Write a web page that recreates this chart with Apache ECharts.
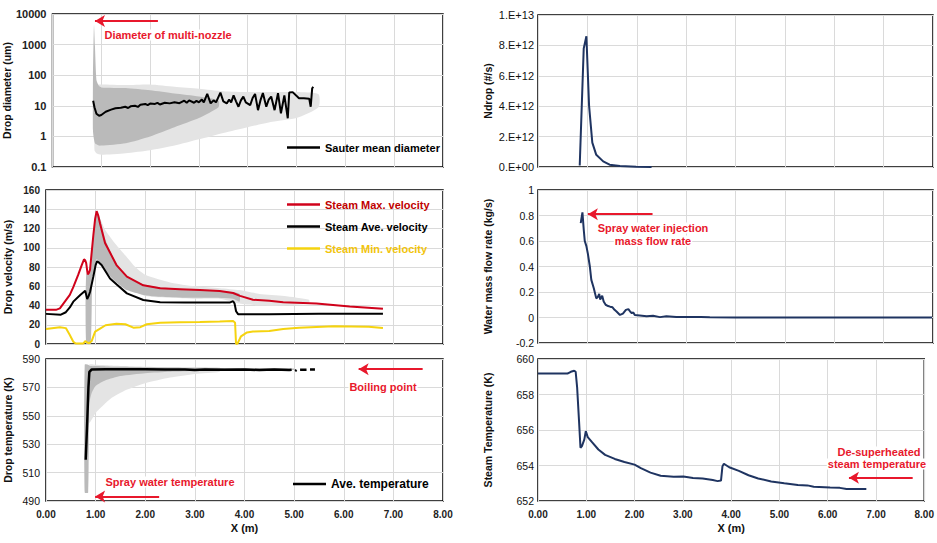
<!DOCTYPE html>
<html><head><meta charset="utf-8">
<script src="https://cdn.jsdelivr.net/npm/echarts@6/dist/echarts.min.js"></script>
<style>html,body{margin:0;padding:0;background:#fff}#c{width:937px;height:543px}</style>
</head><body><div id="c"></div>
<script>
// ---------------- DATA ----------------
const xTicks = [0, 1, 2, 3, 4, 5, 6, 7, 8];

// Panel 1: drop diameter (log)
const sauterDiameter = [[0.833,14.7],[0.86,9],[0.9,5.5],[0.954,4.7],[1.0,5.0],[1.09,6.4],[1.2,7.5],[1.29,8.3],[1.4,8.6],[1.49,9.3],[1.55,8.5],[1.6,9.6],[1.69,10],[1.75,9.2],[1.8,10.8],[1.9,11.5],[1.95,10.5],[2.0,11.8],[2.1,11.5],[2.15,12.5],[2.2,11],[2.3,12.6],[2.4,12],[2.5,13],[2.6,12.2],[2.7,14.7],[2.75,12.5],[2.8,15],[2.9,12.6],[2.95,14.5],[3.0,13],[3.06,16],[3.1,13],[3.17,24.5],[3.24,12],[3.3,15],[3.35,13],[3.44,27],[3.5,14],[3.57,12],[3.62,16],[3.66,13],[3.71,22],[3.76,14],[3.81,9.3],[3.86,15],[3.91,20],[3.96,13],[4.05,10.5],[4.1,18],[4.15,24.5],[4.21,7.2],[4.26,15],[4.31,26],[4.38,9.3],[4.43,16],[4.48,20],[4.55,7.2],[4.62,26],[4.68,5.7],[4.75,22],[4.82,3.9],[4.85,27],[4.92,28],[5.05,17.6],[5.15,17.5],[5.26,17],[5.29,9.3],[5.32,37],[5.34,42]];
const diamCoreX  = [0.83, 0.85, 0.87, 0.9, 0.95, 1.0, 1.5, 2.0, 2.5, 3.0, 3.4];
const diamCoreHi = [100, 4400, 900, 70, 45, 40, 38, 32, 25, 20, 15];
const diamCoreLo = [1.5, 0.8, 0.6, 0.55, 0.5, 0.5, 0.6, 1.0, 2.0, 4, 9];
const diamHaloX  = [0.86, 0.9, 1.0, 1.5, 2.0, 2.5, 3.0, 3.5, 4.0, 4.5, 5.0, 5.45];
const diamHaloHi = [55, 50, 50, 48, 50, 42, 36, 30, 28, 28, 28, 24];
const diamHaloLo = [0.35, 0.28, 0.25, 0.28, 0.35, 0.5, 0.8, 1.3, 2, 3, 4, 9];

// Panel 2: velocities
const steamMaxVel = [[0,35.5],[0.2,35.5],[0.28,37],[0.35,42],[0.48,51],[0.55,59],[0.65,72],[0.72,82],[0.766,88],[0.79,87],[0.81,84],[0.84,72.4],[0.865,74],[0.887,77],[0.92,95],[0.954,113],[0.99,130],[1.02,138],[1.05,134],[1.09,125],[1.19,105],[1.3,94],[1.42,82],[1.63,70],[1.96,61],[2.3,58],[2.7,57],[3.1,56],[3.5,55],[3.77,53],[3.91,50],[4.17,46],[4.5,45],[4.78,43.5],[5.45,42],[6.12,39],[6.79,36.5]];
const steamAveVel = [[0,31.3],[0.3,30.5],[0.4,33],[0.48,38],[0.55,44],[0.69,51],[0.79,55.4],[0.83,46.7],[0.86,50],[0.887,54],[0.954,70],[1.0,82],[1.03,86],[1.07,84.5],[1.12,82],[1.29,68],[1.42,62],[1.63,52.6],[1.96,45.7],[2.3,43.3],[2.8,43],[3.3,43],[3.7,43],[3.77,44.5],[3.8,42],[3.83,34],[3.87,31],[4.5,31],[5.5,31.3],[6.79,31.5]];
const steamMinVel = [[0,15.6],[0.28,17.4],[0.4,16.5],[0.48,9.3],[0.55,2.4],[0.6,0.5],[0.75,0.5],[0.79,3],[0.83,1.5],[0.87,0.8],[0.92,3],[0.99,12.8],[1.09,16],[1.2,19.5],[1.42,21],[1.6,20.5],[1.76,17],[1.9,17.5],[2.03,20.5],[2.3,22],[2.7,22.5],[3.1,22.8],[3.5,23.3],[3.77,24],[3.81,22],[3.83,0],[3.86,0.5],[3.93,8],[4.05,12],[4.17,13],[4.5,13.5],[4.78,15.6],[5.1,17],[5.8,18.4],[6.5,18],[6.79,16.7]];
const velCoreX  = [0.81, 0.9, 0.93, 0.96, 1.02, 1.1, 1.2, 1.3, 1.42, 1.63, 1.96, 2.3, 2.8, 3.3, 3.77, 3.9];
const velCoreHi = [72, 76, 100, 114, 138, 128, 108, 96, 84, 71, 62, 59, 57, 56, 54, 52];
const velCoreLo = [0, 0, 62, 72, 88, 84, 76, 70, 64, 56, 51, 49, 48, 48, 47, 44];
const velHaloX  = [1.05, 1.2, 1.4, 1.6, 1.8, 2.0, 2.5, 3.0, 3.5, 3.9, 4.3, 4.8, 5.3];
const velHaloHi = [134, 118, 104, 92, 80, 72, 64, 60, 58, 56, 52, 50, 46];
const velHaloLo = [86, 76, 66, 58, 54, 50, 48, 47, 47, 42, 40, 40, 42];

// Panel 3: drop temperature
const aveDropTemp = [[0.80,519],[0.83,545],[0.855,570],[0.874,581],[0.92,582.6],[1.2,582.7],[1.6,582.8],[2.0,582.7],[2.4,582.6],[2.8,582.6],[3.0,582.3],[3.2,582.6],[3.6,582.5],[4.0,582.6],[4.3,582.2],[4.6,582.6],[4.9,582.3],[4.95,582.5],[4.97,null],[5.02,581.5],[5.05,582.2],[5.07,null],[5.12,582.4],[5.25,582.5],[5.28,null],[5.32,582.6],[5.42,582.6]];
const tempCoreX  = [0.78, 0.85, 0.87, 0.92, 1.0, 1.2, 1.5, 2.0, 2.5, 3.0, 4.0, 5.0];
const tempCoreHi = [586, 586, 585.5, 585, 585, 584.8, 584.5, 584.2, 584, 583.8, 583.5, 583.3];
const tempCoreLo = [496, 496, 558, 566, 571, 575, 578, 580, 581, 581.5, 582, 582.3];
const tempHaloX  = [0.87, 1.0, 1.3, 1.6, 2.0, 2.5, 3.0, 3.5];
const tempHaloHi = [586, 586, 585.5, 585, 584.5, 584.2, 584, 584];
const tempHaloLo = [545, 552, 562, 568, 573, 577, 579.5, 581];

// Panel 4: Ndrop
const nDrop = [[0.845,0.1e12],[0.926,7.8e12],[0.98,8.6e12],[1.035,4.0e12],[1.10,1.6e12],[1.18,0.8e12],[1.32,0.37e12],[1.45,0.15e12],[1.66,0.06e12],[1.99,0.02e12],[2.3,0.005e12]];

// Panel 5: water mass flow rate
const waterFlow = [[0.865,0.74],[0.90,0.825],[0.927,0.686],[0.947,0.60],[0.98,0.56],[1.01,0.50],[1.05,0.40],[1.08,0.295],[1.13,0.23],[1.18,0.15],[1.21,0.16],[1.24,0.185],[1.26,0.14],[1.30,0.17],[1.33,0.125],[1.37,0.10],[1.42,0.09],[1.46,0.085],[1.51,0.08],[1.55,0.06],[1.59,0.047],[1.66,0.02],[1.72,0.03],[1.78,0.06],[1.83,0.066],[1.87,0.045],[1.90,0.034],[1.93,0.04],[1.96,0.02],[2.06,0.016],[2.2,0.01],[2.33,0.013],[2.47,0.003],[2.6,0.01],[2.8,0.004],[3.0,0.003],[3.3,0.004],[3.48,0.002],[4.0,0],[5.0,0],[6.0,0],[7.0,0],[7.98,0]];

// Panel 6: steam temperature
const steamTemp = [[0,659.18],[0.61,659.18],[0.68,659.28],[0.75,659.34],[0.78,659.28],[0.81,658.42],[0.85,656.5],[0.88,655.0],[0.91,655.09],[0.96,655.47],[0.99,655.94],[1.03,655.6],[1.11,655.34],[1.25,654.9],[1.39,654.6],[1.59,654.37],[1.79,654.2],[2.0,654.05],[2.13,653.85],[2.33,653.6],[2.54,653.42],[2.81,653.37],[3.01,653.38],[3.21,653.3],[3.41,653.27],[3.62,653.18],[3.72,653.12],[3.79,653.15],[3.82,653.95],[3.85,654.1],[3.96,653.9],[4.16,653.7],[4.36,653.45],[4.56,653.27],[4.83,653.1],[5.10,653.0],[5.38,652.9],[5.58,652.88],[5.71,652.8],[6.05,652.76],[6.25,652.74],[6.39,652.67],[6.73,652.67],[6.8,652.67]];

// ---------------- CHART ----------------
const FONT = 'Liberation Sans, Arial, sans-serif';
const RED = '#e8182c';
const CORE = '#bababa', HALO = '#e4e4e4';
const NAVY = '#1f3461';

const grids = [
  {left:46, top:14, width:397, height:153},
  {left:46, top:190, width:397, height:154},
  {left:46, top:359, width:397, height:142},
  {left:538, top:15, width:395, height:152},
  {left:538, top:190, width:395, height:153},
  {left:538, top:359, width:395, height:142}
].map(g => Object.assign({show:true, borderColor:'#000', borderWidth:1.5, backgroundColor:'transparent'}, g));

const splitLine = {show:true, lineStyle:{color:'#dadada', width:1}};
function xAxis(i, bottom) {
  return {type:'value', gridIndex:i, min:xTicks[0], max:xTicks[xTicks.length-1], interval:1,
    axisLine:{show:false}, axisTick:{show:false}, splitLine,
    axisLabel:{show:bottom, formatter:v=>v.toFixed(2), fontFamily:FONT, fontSize:10, fontWeight:'bold', color:'#222', margin:8},
    name: bottom ? 'X (m)' : '', nameLocation:'middle', nameGap:21,
    nameTextStyle:{fontFamily:FONT, fontSize:11, fontWeight:'bold', color:'#111'}};
}
function yAxis(i, name, opts, labelOpts, gap) {
  return Object.assign({type:'value', gridIndex:i, name, nameLocation:'middle', nameGap:gap,
    nameTextStyle:{fontFamily:FONT, fontSize:10.5, fontWeight:'bold', color:'#111'},
    axisLine:{show:false}, axisTick:{show:false}, splitLine,
    axisLabel:Object.assign({fontFamily:FONT, fontSize:10, fontWeight:'bold', color:'#222', margin:6}, labelOpts)}, opts);
}
function sciFmt(v) {
  if (v === 0) return '0.E+00';
  const e = Math.floor(Math.log10(v) + 1e-9);
  const m = Math.round(v / Math.pow(10, e));
  return m + '.E+' + String(e).padStart(2, '0');
}

function band(xi, yi, xs, lo, hi, color) {
  return {type:'custom', xAxisIndex:xi, yAxisIndex:yi, silent:true, z:1, clip:true,
    data:[[xs[0], hi[0]]],
    renderItem:(params, api) => {
      const top = xs.map((x, k) => api.coord([x, hi[k]]));
      const bot = xs.map((x, k) => api.coord([x, lo[k]])).reverse();
      return {type:'polygon', shape:{points:top.concat(bot), smooth:0.2}, style:{fill:color}};
    }};
}
function arrowML(pairs) {
  return {silent:true, symbol:['none','arrow'], symbolSize:[9,10], animation:false,
    lineStyle:{color:RED, width:2, type:'solid'}, label:{show:false}, emphasis:{disabled:true},
    data:pairs.map(([x1, x2, y]) => [{coord:[x1, y]}, {coord:[x2, y]}])};
}
function line(name, xi, data, color, width, extra) {
  return Object.assign({type:'line', name, xAxisIndex:xi, yAxisIndex:xi, data, symbol:'none',
    lineStyle:{color, width}, itemStyle:{color}, z:3, animation:false, connectNulls:false}, extra || {});
}
const legendBase = {itemWidth:33, itemHeight:2.5, icon:'rect', selectedMode:false, padding:0};
const thinLabel = {fontWeight:'normal', color:'#111'};

const option = {
  animation:false,
  grid: grids,
  xAxis: [xAxis(0,false), xAxis(1,false), xAxis(2,true), xAxis(3,false), xAxis(4,false), xAxis(5,true)],
  yAxis: [
    yAxis(0, 'Drop diameter (um)', {type:'log', logBase:10, min:0.1, max:10000}, {fontSize:11, formatter:v=>String(+(+v).toPrecision(6))}, 33),
    yAxis(1, 'Drop velocity (m/s)', {min:0, max:160, interval:20}, {}, 33),
    yAxis(2, 'Drop temperature (K)', {min:490, max:590, interval:20}, Object.assign({fontSize:10.5}, thinLabel), 33),
    yAxis(3, 'Ndrop (#/s)', {min:0, max:1e13, interval:2e12}, Object.assign({fontSize:11, margin:4, formatter:sciFmt}, thinLabel), 45),
    yAxis(4, 'Water mass flow rate (kg/s)', {min:-0.2, max:1, interval:0.2}, Object.assign({fontSize:10.5, margin:4, formatter:v=>String(+v.toFixed(1))}, thinLabel), 45),
    yAxis(5, 'Steam Temperature (K)', {min:652, max:660, interval:2}, Object.assign({fontSize:10.5, margin:4}, thinLabel), 45)
  ],
  legend: [
    Object.assign({left:287, top:142, textStyle:{fontFamily:FONT, fontSize:11, fontWeight:'bold', color:'#000'},
     data:['Sauter mean diameter']}, legendBase),
    Object.assign({left:287, top:199, orient:'vertical', itemGap:11,
     textStyle:{fontFamily:FONT, fontSize:11, fontWeight:'bold'},
     data:[{name:'Steam Max. velocity', textStyle:{color:'#c00000'}},
           {name:'Steam Ave. velocity', textStyle:{color:'#000'}},
           {name:'Steam Min. velocity', textStyle:{color:'#f2c40c'}}]}, legendBase),
    Object.assign({left:293, top:478, textStyle:{fontFamily:FONT, fontSize:12, fontWeight:'bold', color:'#000'},
     data:['Ave. temperature']}, legendBase)
  ],
  series: [
    band(0, 0, diamHaloX, diamHaloLo, diamHaloHi, HALO),
    band(0, 0, diamCoreX, diamCoreLo, diamCoreHi, CORE),
    line('Sauter mean diameter', 0, sauterDiameter, '#000', 2, {markLine:arrowML([[2.16, 0.87, 5900]])}),

    band(1, 1, velHaloX, velHaloLo, velHaloHi, HALO),
    band(1, 1, velCoreX, velCoreLo, velCoreHi, CORE),
    line('Steam Max. velocity', 1, steamMaxVel, '#d0021b', 2),
    line('Steam Ave. velocity', 1, steamAveVel, '#000', 2),
    line('Steam Min. velocity', 1, steamMinVel, '#f5d30f', 2),

    band(2, 2, tempHaloX, tempHaloLo, tempHaloHi, HALO),
    band(2, 2, tempCoreX, tempCoreLo, tempCoreHi, CORE),
    line('Ave. temperature', 2, aveDropTemp, '#000', 2.5, {markLine:arrowML([[7.59, 6.30, 582.8], [2.28, 0.99, 493.1]])}),

    line('Ndrop', 3, nDrop, NAVY, 2),
    line('Water mass flow rate', 4, waterFlow, NAVY, 2, {markLine:arrowML([[2.32, 1.01, 0.81]])}),
    line('Steam temperature', 5, steamTemp, NAVY, 2, {markLine:arrowML([[7.76, 6.44, 653.31]])})
  ],
  graphic: [
    ['Diameter of multi-nozzle', 168, 35],
    ['Boiling point', 383, 387],
    ['Spray water temperature', 170, 482],
    ['Spray water injection', 653, 228],
    ['mass flow rate', 653, 241],
    ['De-superheated', 879, 452],
    ['steam temperature', 877, 464]
  ].map(([t, x, y]) => ({type:'text', x, y, z:100, silent:true,
    style:{text:t, fill:RED, font:'bold 11px ' + FONT, backgroundColor:'#fff', padding:[0,1],
      textAlign:'center', textVerticalAlign:'middle', align:'center', verticalAlign:'middle'}}))
};

const chart = echarts.init(document.getElementById('c'), null, {renderer:'svg'});
chart.setOption(option);
</script></body></html>
